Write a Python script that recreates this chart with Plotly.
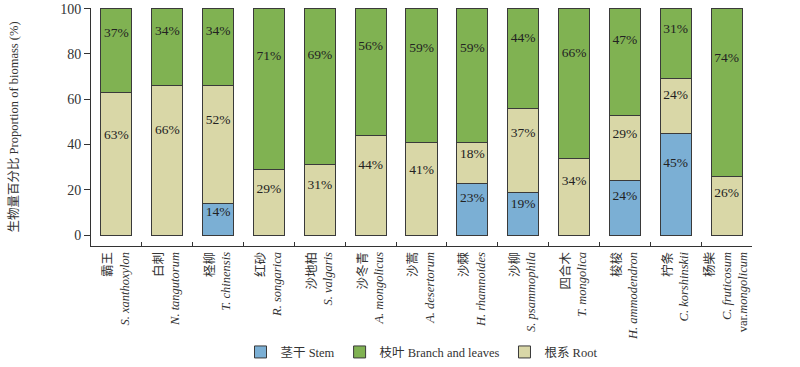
import plotly.graph_objects as go

categories = [
    "霸王<br><i>S. xanthoxylon</i>",
    "白刺<br><i>N. tangutorum</i>",
    "柽柳<br><i>T. chinensis</i>",
    "红砂<br><i>R. songarica</i>",
    "沙地柏<br><i>S. valgaris</i>",
    "沙冬青<br><i>A. mongolicus</i>",
    "沙蒿<br><i>A. desertorum</i>",
    "沙棘<br><i>H. rhamnoides</i>",
    "沙柳<br><i>S. psammophila</i>",
    "四合木<br><i>T. mongolica</i>",
    "梭梭<br><i>H. ammodendron</i>",
    "柠条<br><i>C. korshinskii</i>",
    "杨柴<br><i>C. fruticosum</i><br>var.<i>mongolicum</i>",
]
stem = [0, 0, 14, 0, 0, 0, 0, 23, 19, 0, 24, 45, 0]
root = [63, 66, 52, 29, 31, 44, 41, 18, 37, 34, 29, 24, 26]
branch = [37, 34, 34, 71, 69, 56, 59, 59, 44, 66, 47, 31, 74]
y_ticks = [0, 20, 40, 60, 80, 100]

FONT = "Liberation Serif, Times New Roman, Noto Sans CJK SC, serif"
colors = {"stem": "#7bafd4", "branch": "#80b252", "root": "#d9d7a7"}
outline = dict(color="#3a3a3a", width=1)

fig = go.Figure()
series = [("茎干 Stem", stem, colors["stem"]),
          ("根系 Root", root, colors["root"]),
          ("枝叶 Branch and leaves", branch, colors["branch"])]
rank = {"茎干 Stem": 1, "枝叶 Branch and leaves": 2, "根系 Root": 3}
for name, vals, col in series:
    fig.add_trace(go.Bar(x=categories, y=vals, name=name, marker=dict(color=col, line=outline),
                         width=0.61, legendrank=rank[name]))

# labels at 70% of each segment height
lx, ly, lt = [], [], []
for i, c in enumerate(categories):
    base = 0
    for _, vals, _ in series:
        v = vals[i]
        if v > 0:
            lx.append(c)
            ly.append(base + 0.7 * v)
            lt.append(f"{v}%")
        base += v
fig.add_trace(go.Scatter(x=lx, y=ly, text=lt, mode="text", showlegend=False,
                         textfont=dict(family=FONT, size=13.5, color="#222"), hoverinfo="skip"))

fig.update_layout(
    barmode="stack",
    width=800, height=367,
    margin=dict(l=91, r=48, t=8, b=121),
    plot_bgcolor="white", paper_bgcolor="white",
    font=dict(family=FONT, size=12, color="#333"),
    legend=dict(orientation="h", x=0.5, xanchor="center", xref="paper",
                yref="container", y=0.04, yanchor="middle",
                font=dict(family=FONT, size=12.5, color="#333"), traceorder="normal"),
    xaxis=dict(range=[-0.5, 12.5], showline=True, linecolor="#333", linewidth=1,
               ticks="inside", tickson="boundaries", ticklen=4, tickcolor="#333",
               tickangle=-90, automargin=False,
               tickfont=dict(family=FONT, size=12.5, color="#333")),
    yaxis=dict(range=[-4.8, 100.3], showline=True, linecolor="#333", linewidth=1,
               tickvals=y_ticks, ticks="outside", ticklen=6, tickcolor="#333",
               showgrid=False, zeroline=False, automargin=False,
               tickfont=dict(family=FONT, size=14, color="#333"),
               title=dict(text="生物量百分比 Proportion of biomass (%)",
                          font=dict(family=FONT, size=12.5, color="#333"), standoff=38)),
)
fig.write_html("out.html", config={"displayModeBar": False},
               post_script="document.body.style.margin='0';")
